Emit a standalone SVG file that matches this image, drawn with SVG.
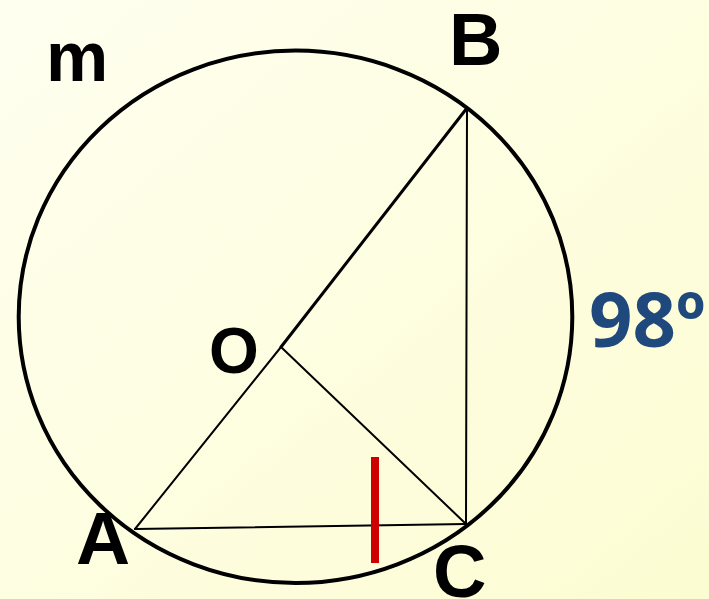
<svg xmlns="http://www.w3.org/2000/svg" width="709" height="599" viewBox="0 0 709 599">
  <defs>
    <linearGradient id="bg" x1="0" y1="0" x2="1" y2="1">
      <stop offset="0" stop-color="#FFFFF0"/>
      <stop offset="1" stop-color="#FCFCD2"/>
    </linearGradient>
  </defs>
  <style>
    .lbl { font-family: "Liberation Sans", Arial, sans-serif; font-weight: bold; fill: #000; }
    .seg { stroke: #000; stroke-width: 2; fill: none; stroke-linecap: round; }
    .deg { font-family: "Open Sans", "Liberation Sans", sans-serif; font-weight: bold; fill: #1F497D; }
  </style>
  <rect x="0" y="0" width="709" height="599" fill="url(#bg)"/>
  <g id="circle">
    <ellipse cx="295.5" cy="316.8" rx="276.8" ry="266.2" fill="none" stroke="#000" stroke-width="4"/>
  </g>
  <g id="connectors">
    <line class="seg" x1="281" y1="347" x2="467" y2="108" style="stroke-width:3"/>
    <line class="seg" x1="281" y1="347" x2="135" y2="529"/>
    <line class="seg" x1="281" y1="347" x2="466" y2="524"/>
    <line class="seg" x1="467" y1="108" x2="466" y2="524"/>
    <line class="seg" x1="135" y1="529" x2="466" y2="524"/>
  </g>
  <g id="tick">
    <line x1="375" y1="457" x2="375" y2="563" stroke="#CC0000" stroke-width="8"/>
  </g>
  <g id="label-m"><text class="lbl" x="46" y="81" font-size="70">m</text></g>
  <g id="label-B"><text class="lbl" x="449" y="65" font-size="74">B</text></g>
  <g id="label-O"><text class="lbl" x="209" y="373" font-size="64">O</text></g>
  <g id="label-A"><text class="lbl" x="76" y="564" font-size="75">A</text></g>
  <g id="label-C"><text class="lbl" x="433" y="597" font-size="74">C</text></g>
  <g id="label-98"><text class="deg" x="589" y="347" font-size="76">98º</text></g>
</svg>
